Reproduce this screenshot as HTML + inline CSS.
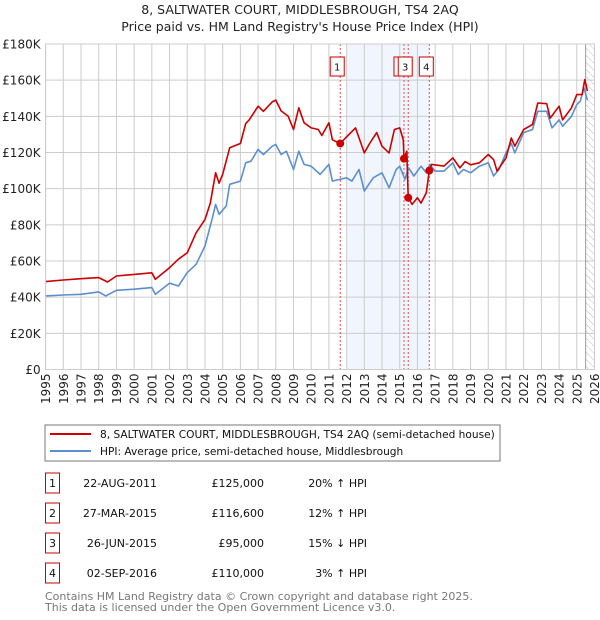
<!DOCTYPE html>
<html><head><meta charset="utf-8">
<style>
body{margin:0;background:#fff;width:600px;height:620px;overflow:hidden;font-family:"DejaVu Sans","Liberation Sans",sans-serif;}
svg{display:block}
</style></head><body>
<svg id="chart" width="600" height="620" viewBox="0 0 600 620" xmlns="http://www.w3.org/2000/svg">
<text x="300" y="14" text-anchor="middle" font-size="12.5" fill="#222">8, SALTWATER COURT, MIDDLESBROUGH, TS4 2AQ</text>
<text x="300" y="31" text-anchor="middle" font-size="12.5" fill="#222">Price paid vs. HM Land Registry's House Price Index (HPI)</text>
<defs><pattern id="hatch" width="5" height="5" patternUnits="userSpaceOnUse" patternTransform="rotate(-45)"><line x1="0" y1="0" x2="0" y2="5" stroke="#bbb" stroke-width="1"/></pattern></defs>
<g id="grid"></g>
<g id="marks"></g>
<g id="axes"></g>
<g>
<rect x="45" y="425" width="455" height="36" fill="#fff" stroke="#777"/>
<line x1="50" y1="434" x2="91" y2="434" stroke="#cc0000" stroke-width="2"/>
<text x="100" y="438" font-size="10.6" fill="#111">8, SALTWATER COURT, MIDDLESBROUGH, TS4 2AQ (semi-detached house)</text>
<line x1="50" y1="451" x2="91" y2="451" stroke="#5b8fd0" stroke-width="2"/>
<text x="100" y="455" font-size="10.6" fill="#111">HPI: Average price, semi-detached house, Middlesbrough</text>
</g>
<g id="table" font-size="11" fill="#111"></g>
<text x="45" y="600" font-size="11" fill="#777">Contains HM Land Registry data © Crown copyright and database right 2025.</text>
<text x="45" y="611" font-size="11" fill="#777">This data is licensed under the Open Government Licence v3.0.</text>
</svg>
<script>
const redT=[1995,1996,1997,1998,1998.5,1999,2000,2001,2001.2,2002,2002.5,2003,2003.5,2004,2004.3,2004.6,2004.8,2005,2005.4,2006,2006.3,2006.5,2007,2007.3,2007.8,2008,2008.3,2008.7,2009,2009.3,2009.6,2010,2010.4,2010.6,2011,2011.2,2011.64,2012,2012.5,2013,2013.3,2013.7,2014,2014.4,2014.7,2015,2015.2,2015.24,2015.4,2015.48,2015.7,2016,2016.2,2016.5,2016.67,2016.8,2017.5,2018,2018.4,2018.7,2019,2019.5,2020,2020.3,2020.5,2021,2021.3,2021.5,2022,2022.5,2022.8,2023.3,2023.5,2024,2024.2,2024.7,2025,2025.3,2025.45,2025.6];
const redV=[48.6,49.5,50.2,50.8,48.4,51.7,52.6,53.5,49.9,56.3,61,64.6,75.6,83,92,108.8,103,108,122.6,125,136,138,145.6,142.8,148,149,143,140,132.7,144.7,136.4,133.6,132.7,129.4,136.4,127,125,128.7,133.6,119.8,125,131,123.5,119.8,132.7,133.6,127,116.6,120.7,95,91.3,95,92,97.7,110,113.4,112.5,117,111.5,115,113.2,114.3,118.9,116,109.7,117,128,123.5,132.7,135.5,147.4,147,139,145.6,138,144.7,152,152,160.3,154];
const hpiT=[1995,1996,1997,1998,1998.4,1999,2000,2001,2001.2,2002,2002.5,2003,2003.5,2004,2004.4,2004.6,2004.8,2005.2,2005.4,2006,2006.3,2006.6,2007,2007.3,2007.8,2008,2008.3,2008.6,2009,2009.3,2009.6,2010,2010.5,2011,2011.2,2011.6,2012,2012.3,2012.7,2013,2013.5,2014,2014.4,2014.8,2015,2015.3,2015.5,2015.8,2016.2,2016.5,2016.7,2017,2017.5,2018,2018.3,2018.6,2019,2019.5,2020,2020.3,2020.6,2021,2021.3,2021.5,2022,2022.5,2022.8,2023.3,2023.6,2024,2024.2,2024.7,2025,2025.2,2025.4,2025.6];
const hpiV=[40.7,41.2,41.6,42.9,40.7,43.8,44.4,45.3,41.6,47.7,46.2,53.6,58.2,68.3,83,91.3,85.8,90.4,102.4,104.2,114.3,115.2,121.7,118.9,123.5,124.4,118.9,120.7,110.6,120.7,113.4,112.4,107.9,113.4,104.2,105.1,106,104.2,110.6,98.7,106,108.8,100.5,110.6,112.4,105.1,111.5,107,112.4,108.8,113.4,109.7,109.7,114.3,107.9,110.6,108.8,112.4,114.3,107,110.6,119.8,125,119.8,131,132.7,142.8,142.8,133.6,138,134.5,140,146.5,148.4,155.7,149];
const saleLabels=["1","2","3","4"];
const saleT=[2011.64,2015.24,2015.48,2016.67];
const saleV=[125,116.6,95,110];
const saleDates=["22-AUG-2011","27-MAR-2015","26-JUN-2015","02-SEP-2016"];
const salePrices=["£125,000","£116,600","£95,000","£110,000"];
const saleHpi=["20% ↑ HPI","12% ↑ HPI","15% ↓ HPI","3% ↑ HPI"];
const yTicks=[0,20,40,60,80,100,120,140,160,180];
const yTickLabels=["£0","£20K","£40K","£60K","£80K","£100K","£120K","£140K","£160K","£180K"];
const xYears=[];for(let y=1995;y<=2026;y++)xYears.push(y);

const L=45.6,R=594.5,T=44,B=369.5;
const xs=t=>L+(t-1995)/(2026-1995)*(R-L);
const ys=v=>B-v/180*(B-T);
const NS="http://www.w3.org/2000/svg";
function mk(tag,attrs,parent){const e=document.createElementNS(NS,tag);for(const k in attrs)e.setAttribute(k,attrs[k]);parent.appendChild(e);return e;}
const grid=document.getElementById('grid'),marks=document.getElementById('marks'),axes=document.getElementById('axes'),table=document.getElementById('table');

mk('rect',{x:L,y:T,width:R-L,height:B-T,fill:'#fff'},grid);
const sh=mk('rect',{x:xs(2012),y:T,width:xs(2016.67)-xs(2012),height:B-T,fill:'#eef3fc',opacity:0.8},grid);


const ht=mk('rect',{x:xs(2025.5),y:T,width:R-xs(2025.5),height:B-T,fill:'url(#hatch)'},grid);


xYears.forEach(y=>{const l=mk('line',{x1:xs(y),x2:xs(y),y1:T,y2:B,stroke:'#ccc','stroke-width':1},grid);


const t=mk('text',{transform:`translate(${xs(y)+4.5},${B+4}) rotate(-90)`,'text-anchor':'end','font-size':'12',fill:'#222'},axes);t.textContent=y;

});
yTicks.forEach((v,i)=>{const l=mk('line',{x1:L,x2:R,y1:ys(v),y2:ys(v),stroke:'#ccc','stroke-width':1},grid);


const t=mk('text',{x:L-5,y:ys(v)+4.5,'text-anchor':'end','font-size':'12',fill:'#222'},axes);t.textContent=yTickLabels[i];

});
mk('line',{x1:xs(2025.5),x2:xs(2025.5),y1:T,y2:B,stroke:'#999'},grid);
mk('rect',{x:L,y:T,width:R-L,height:B-T,fill:'none',stroke:'#ccc'},axes);

saleT.forEach(t=>{const l=mk('line',{x1:xs(t),x2:xs(t),y1:T,y2:B,stroke:'#e05050','stroke-width':1,'stroke-dasharray':'2,2'},marks);

});

function pts(T_,V_){return T_.map((t,i)=>xs(t).toFixed(1)+','+ys(V_[i]).toFixed(1)).join(' ');}
const hp=mk('polyline',{points:pts(hpiT,hpiV),fill:'none',stroke:'#5b8fd0','stroke-width':1.6,'stroke-linejoin':'round'},marks);


const rp=mk('polyline',{points:pts(redT,redV),fill:'none',stroke:'#cc0000','stroke-width':1.6,'stroke-linejoin':'round'},marks);


saleT.forEach((t,i)=>{const c=mk('circle',{cx:xs(t),cy:ys(saleV[i]),r:4,fill:'#cc0000'},marks);

});
saleT.forEach((t,i)=>{const g=mk('g',{},marks);


const cx=xs(t)-3;mk('rect',{x:cx-7,y:57,width:14,height:19,fill:'#fff',stroke:'#cc0000'},g);
const tx=mk('text',{x:cx,y:70.5,'text-anchor':'middle','font-size':'10',fill:'#111'},g);tx.textContent=saleLabels[i];});

const rowsY=[483,513,543,573];
saleLabels.forEach((s,i)=>{const y=rowsY[i];const g=mk('g',{},table);


mk('rect',{x:45.5,y:y-10,width:14,height:20,fill:'#fff',stroke:'#cc0000'},g);
let t=mk('text',{x:52.5,y:y+4,'text-anchor':'middle'},g);t.textContent=s;
t=mk('text',{x:157,y:y+4,'text-anchor':'end'},g);t.textContent=saleDates[i];
t=mk('text',{x:264,y:y+4,'text-anchor':'end'},g);t.textContent=salePrices[i];
t=mk('text',{x:367,y:y+4,'text-anchor':'end'},g);t.textContent=saleHpi[i];});
</script>
</body></html>
